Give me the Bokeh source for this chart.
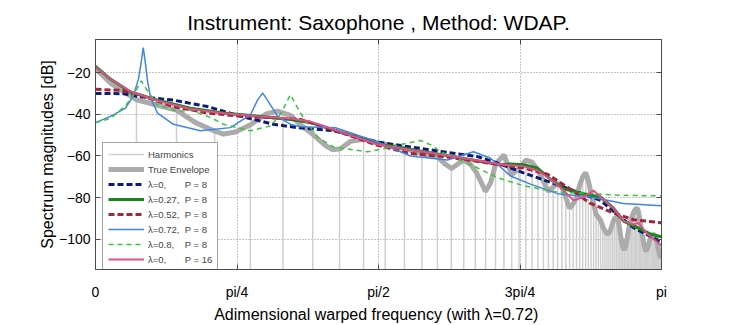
from bokeh.plotting import figure
from bokeh.models import Range1d, FixedTicker, LinearAxis, Legend, LegendItem, ColumnDataSource
from bokeh.embed import file_html
from bokeh.resources import INLINE

FONT = "Liberation Sans"
TITLE = "Instrument: Saxophone , Method: WDAP."
X_LABEL = "Adimensional warped frequency  (with \u03bb=0.72)"
Y_LABEL = "Spectrum magnitudes [dB]"

# x in units of pi (0 .. 1)
X_TICKS = [0.0, 0.25, 0.5, 0.75, 1.0]
X_TICK_LABELS = ["0", "pi/4", "pi/2", "3pi/4", "pi"]
Y_TICKS = [-100, -80, -60, -40, -20]
X_MIN, X_MAX = 0.0, 1.0
Y_MIN, Y_MAX = -114.5, -4.1

# harmonic positions (warped, in units of pi) and their magnitudes (dB)
harm_x = [0.0724, 0.1431, 0.2105, 0.2735, 0.3313, 0.3838, 0.4312, 0.4737, 0.5119, 0.5458,
          0.5767, 0.6041, 0.6287, 0.6506, 0.6711, 0.6893, 0.7067, 0.7216, 0.7354, 0.7483,
          0.7603, 0.7714, 0.7817, 0.7913, 0.8002, 0.8086, 0.8165, 0.8240, 0.8310, 0.8376,
          0.8439, 0.8498, 0.8555, 0.8608, 0.8660, 0.8709, 0.8756, 0.8801, 0.8844, 0.8886,
          0.8926, 0.8964, 0.9001, 0.9037, 0.9072, 0.9106, 0.9139, 0.9170, 0.9201, 0.9231,
          0.9260, 0.9288, 0.9316, 0.9343, 0.9370, 0.9396, 0.9421, 0.9446, 0.9470, 0.9494,
          0.9518, 0.9541, 0.9564, 0.9586, 0.9608, 0.9630, 0.9652, 0.9673, 0.9694, 0.9715,
          0.9735, 0.9756, 0.9776, 0.9796, 0.9816, 0.9836, 0.9855, 0.9875, 0.9895, 0.9914,
          0.9933, 0.9953, 0.9972, 0.9991]
harm_db = [-33, -38, -48, -45, -39.5, -49.5, -56.5, -52, -54.5, -56.5,
           -58.8, -60.5, -66, -62, -67, -77, -64, -59.5, -69, -66,
           -62, -63, -67, -72, -77, -75, -73, -75, -80, -85,
           -83, -80, -74, -70, -68, -72, -78, -83, -88, -89.5,
           -91, -94, -96, -97.5, -97, -95, -92, -90, -89.5, -90,
           -95, -100, -104, -105, -103, -99, -95, -92, -90, -88,
           -86.5, -85.5, -85, -86, -89, -93, -97, -100, -103, -105,
           -105.5, -104, -102, -100, -99, -98, -97.5, -98, -99, -100,
           -103, -106, -108, -109]

# true envelope, low-frequency part (beyond it the envelope runs over the harmonic peaks)
env_x = [0.0, 0.0265, 0.0724, 0.1148, 0.1431, 0.1767, 0.2102, 0.2261, 0.2473, 0.2739,
         0.3004, 0.3216, 0.3445, 0.3622, 0.3834, 0.4064, 0.4187, 0.4329, 0.4505, 0.4735,
         0.4947, 0.5124, 0.5459, 0.5760, 0.6042, 0.6184, 0.6290, 0.6396, 0.6502, 0.6625,
         0.6731, 0.6820, 0.6890, 0.6979, 0.7067]
env_db = [-18, -25, -33, -36, -38, -44, -48, -49.5, -48.5, -45,
          -40, -38.5, -40.5, -45, -49.5, -55, -57, -56.5, -53, -52,
          -53.5, -54.5, -56.5, -58.8, -60.5, -64, -66, -64, -62, -64,
          -68, -73, -77, -73, -64]

# lambda = 0, P = 8
l00_x = [0, 0.0495, 0.0795, 0.1378, 0.1979, 0.2562, 0.3145, 0.3569, 0.4205, 0.4982,
         0.5565, 0.6148, 0.6749, 0.7102, 0.7562, 0.8039, 0.8445, 0.8922, 0.9223, 0.9505, 1.0]
l00_db = [-30, -30.1, -31.6, -33.2, -36.3, -40.9, -44.8, -46.4, -47.9, -53.3,
          -55.7, -58, -60.3, -63.4, -68.1, -72.7, -76.6, -81.3, -88.2, -94.4, -101.4]

# lambda = 0.27, P = 8
l27_x = [0, 0.0265, 0.0618, 0.1095, 0.1678, 0.2261, 0.2862, 0.3445, 0.3799, 0.4982,
         0.6148, 0.7155, 0.7332, 0.7562, 0.7809, 0.8039, 0.8269, 0.8622, 0.8922, 0.9152,
         0.9329, 0.9576, 0.9806, 1.0]
l27_db = [-17, -23.1, -29.3, -33.2, -37.1, -39.4, -40.9, -42.5, -44, -54.1,
          -59.5, -64.2, -63.9, -64.2, -65.8, -71.2, -75.8, -78.1, -79.7, -85.1,
          -91.3, -94.4, -97.5, -98.8]

# lambda = 0.52, P = 8
l52_x = [0, 0.0495, 0.0795, 0.1378, 0.1979, 0.2562, 0.3145, 0.3622, 0.4205, 0.4982,
         0.5565, 0.6148, 0.7155, 0.7562, 0.7986, 0.8339, 0.8746, 0.9152, 0.9505, 1.0]
l52_db = [-28, -28.6, -30.9, -36.3, -39.4, -40.9, -41.7, -42.5, -47.5, -54.9,
          -58.8, -60.3, -64.2, -65.8, -68.8, -75, -82.8, -87.4, -90.6, -92.1]

# lambda = 0.72, P = 8
l72_x = [0, 0.0265, 0.0530, 0.0671, 0.0760, 0.0813, 0.0843, 0.0875, 0.0919, 0.0972,
         0.1095, 0.1378, 0.1855, 0.2385, 0.2739, 0.2862, 0.2956, 0.3057, 0.3216, 0.3445,
         0.3622, 0.4240, 0.4982, 0.5565, 0.6219, 0.6678, 0.6979, 0.7332, 0.7686, 0.8163,
         0.8746, 0.9329, 1.0]
l72_db = [-44, -41, -37, -31, -23, -14, -8, -14, -24, -32,
          -39.4, -44.8, -47.9, -46.4, -40.2, -33.2, -29.8, -34, -40.9, -44.8,
          -46, -46.5, -53.3, -60, -61.9, -58, -61.1, -69.6, -73.5, -78.1,
          -79.7, -82.8, -83.9]

# lambda = 0.8, P = 8
l80_x = [0, 0.0265, 0.0530, 0.0707, 0.0807, 0.0901, 0.1095, 0.1449, 0.1678, 0.2032,
         0.2261, 0.2739, 0.3092, 0.3269, 0.3445, 0.3551, 0.3675, 0.3922, 0.4205, 0.4806,
         0.5088, 0.5477, 0.5742, 0.5954, 0.6095, 0.6572, 0.7102, 0.7562, 0.8163, 0.8746,
         0.9329, 1.0]
l80_db = [-44, -42, -36, -29, -24, -28, -35.5, -38.6, -38, -41.5,
          -44.8, -47.9, -45.6, -40, -30.6, -36, -41.7, -51, -55.7, -58,
          -56.5, -54, -52.6, -55, -58, -63.4, -70.4, -74.3, -77.4, -78.1,
          -78.9, -79.2]

# lambda = 0, P = 16
p16_x = [0, 0.0265, 0.0618, 0.1095, 0.1678, 0.2261, 0.2862, 0.3445, 0.3799, 0.4982,
         0.6148, 0.7155, 0.7562, 0.7809, 0.8039, 0.8269, 0.8445, 0.8622, 0.8799, 0.8922,
         0.9152, 0.9329, 0.9505, 0.9594, 0.9753, 1.0]
p16_db = [-17.5, -23, -29, -33.5, -37.5, -39.5, -41, -42, -43.5, -54.5,
          -59.5, -64, -65, -67, -71.2, -76.5, -81.3, -79.7, -76.6, -79.7,
          -85.1, -91.3, -92.9, -92.1, -97.5, -103]

NB = "\u00a0"
LABELS = ["Harmonics", "True Envelope",
          "\u03bb=0," + NB * 7 + "P = 8",
          "\u03bb=0.27," + NB * 2 + "P = 8",
          "\u03bb=0.52," + NB * 2 + "P = 8",
          "\u03bb=0.72," + NB * 2 + "P = 8",
          "\u03bb=0.8," + NB * 4 + "P = 8",
          "\u03bb=0," + NB * 7 + "P = 16"]

p = figure(width=730, height=325, output_backend="svg", toolbar_location=None,
           x_range=Range1d(X_MIN, X_MAX), y_range=Range1d(Y_MIN, Y_MAX),
           min_border_left=95, min_border_right=69, min_border_top=39, min_border_bottom=48,
           title=TITLE)
p.background_fill_color = "white"
p.border_fill_color = "white"
p.outline_line_color = "#4a4a4a"
p.outline_line_width = 1

p.title.text_font = FONT
p.title.text_font_size = "21px"
p.title.text_font_style = "normal"
p.title.align = "center"
p.title.text_color = "black"
p.title.standoff = 12

AX_COL = "#4a4a4a"
for ax, ticks in ((p.xaxis[0], X_TICKS), (p.yaxis[0], Y_TICKS)):
    ax.ticker = FixedTicker(ticks=ticks)
    ax.major_tick_in = 5
    ax.major_tick_out = 0
    ax.minor_tick_in = 0
    ax.minor_tick_out = 0
    ax.axis_line_color = AX_COL
    ax.major_tick_line_color = AX_COL
    ax.major_label_text_font = FONT
    ax.major_label_text_font_size = "14px"
    ax.major_label_text_color = "black"
    ax.axis_label_text_font = FONT
    ax.axis_label_text_font_size = "16px"
    ax.axis_label_text_font_style = "normal"
    ax.axis_label_text_color = "black"
p.xaxis[0].major_label_overrides = {t: s for t, s in zip(X_TICKS, X_TICK_LABELS)}
p.xaxis[0].axis_label = X_LABEL
p.xaxis[0].major_label_standoff = 14
p.xaxis[0].axis_label_standoff = 3
p.yaxis[0].axis_label = Y_LABEL
p.yaxis[0].major_label_standoff = 5
p.yaxis[0].axis_label_standoff = 0

# mirrored tick marks on the top and right edges (no labels)
for loc, ticks in (("right", Y_TICKS), ("above", X_TICKS)):
    ax = LinearAxis(ticker=FixedTicker(ticks=ticks), major_label_text_font_size="1px",
                    major_label_text_color=None, major_label_standoff=0,
                    major_tick_in=5, major_tick_out=0,
                    minor_tick_in=0, minor_tick_out=0, axis_line_color=AX_COL,
                    major_tick_line_color=AX_COL)
    p.add_layout(ax, loc)

p.xgrid.ticker = FixedTicker(ticks=X_TICKS[1:-1])
p.ygrid.ticker = FixedTicker(ticks=Y_TICKS)
for g in (p.xgrid[0], p.ygrid[0]):
    g.grid_line_color = "#8c8c8c"
    g.grid_line_dash = "1 2"
    g.grid_line_width = 1

harm_src = ColumnDataSource(dict(x=harm_x, h=harm_db))
r_h = p.segment(x0="x", y0=Y_MIN, x1="x", y1="h", source=harm_src,
                line_color="#cfcfcf", line_width=1.5)
r_e = p.line(env_x + harm_x[17:], env_db + harm_db[17:], line_color="#ababab", line_width=5)
r0 = p.line(l00_x, l00_db, line_color="#0c1a7a", line_width=3, line_dash="6 3")
r27 = p.line(l27_x, l27_db, line_color="#17891c", line_width=3)
r52 = p.line(l52_x, l52_db, line_color="#a3263c", line_width=3, line_dash="6 3")
r72 = p.line(l72_x, l72_db, line_color="#3f86e3", line_width=1.5)
r80 = p.line(l80_x, l80_db, line_color="#3cc43c", line_width=1.5, line_dash="5 4")
r16 = p.line(p16_x, p16_db, line_color="#e0508a", line_width=2)

rends = [r_h, r_e, r0, r27, r52, r72, r80, r16]
legend = Legend(items=[LegendItem(label=l, renderers=[r]) for l, r in zip(LABELS, rends)],
                location=(7, -2), label_text_font=FONT, label_text_font_size="9.5px",
                label_height=12, glyph_height=12, glyph_width=36, label_standoff=4,
                spacing=3, padding=5, margin=0, border_line_color="#4a4a4a",
                border_line_width=1, background_fill_color="white", background_fill_alpha=1)
p.add_layout(legend)

open("out.html", "w").write(file_html(p, INLINE))
